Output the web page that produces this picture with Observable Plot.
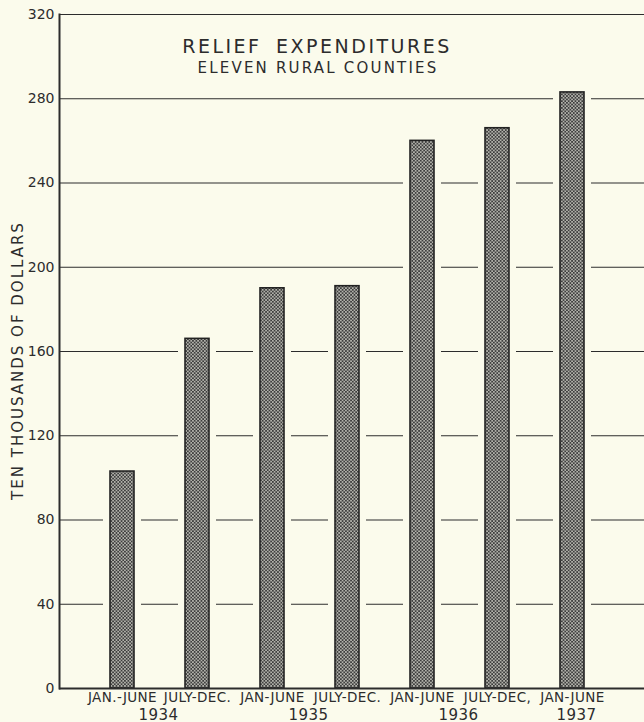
<!DOCTYPE html>
<html>
<head>
<meta charset="utf-8">
<script src="https://cdn.jsdelivr.net/npm/d3@7"></script>
<script src="https://cdn.jsdelivr.net/npm/@observablehq/plot@0.6"></script>
<style>
  html, body { margin: 0; padding: 0; background: #fbfbec; }
  #chart svg { display: block; font-family: "DejaVu Sans", sans-serif; }
</style>
</head>
<body>
<div id="chart"></div>
<script>
const periods = ["JAN.-JUNE 1934", "JULY-DEC. 1934", "JAN-JUNE 1935", "JULY-DEC. 1935", "JAN-JUNE 1936", "JULY-DEC, 1936", "JAN-JUNE 1937"];
const periodLabels = ["JAN.-JUNE", "JULY-DEC.", "JAN-JUNE", "JULY-DEC.", "JAN-JUNE", "JULY-DEC,", "JAN-JUNE"];
const values = [103, 166, 190, 191, 260, 266, 283];
const years = ["1934", "1935", "1936", "1937"];
const yearFirstPeriod = ["JAN.-JUNE 1934", "JAN-JUNE 1935", "JAN-JUNE 1936", "JAN-JUNE 1937"];
const yearHasPair = [true, true, true, false];
const yTicks = [0, 40, 80, 120, 160, 200, 240, 280, 320];
const titleText = "RELIEF EXPENDITURES";
const subtitleText = "ELEVEN RURAL COUNTIES";
const yLabelText = "TEN THOUSANDS OF DOLLARS";

const bg = "#fbfbec";
const ink = "#2c2c2c";
const data = periods.map((p, i) => ({period: p, label: periodLabels[i], value: values[i]}));
const yearData = years.map((y, i) => ({year: y, period: yearFirstPeriod[i], pair: yearHasPair[i]}));

const patternDefs = () => {
  const defs = d3.create("svg:defs");
  const p = defs.append("pattern").attr("id", "hatch").attr("patternUnits", "userSpaceOnUse")
    .attr("width", 3.4).attr("height", 3.4);
  p.append("rect").attr("width", 3.4).attr("height", 3.4).attr("fill", "#3d3d3d");
  p.append("circle").attr("cx", 0.85).attr("cy", 0.85).attr("r", 0.8).attr("fill", "#e6e6dc");
  p.append("circle").attr("cx", 2.55).attr("cy", 2.55).attr("r", 0.8).attr("fill", "#e6e6dc");
  return defs.node();
};

const step = 76;
const chart = Plot.plot({
  width: 644,
  height: 722,
  marginLeft: 59,
  marginRight: 0,
  marginTop: 14,
  marginBottom: 34,
  style: {background: bg, fontFamily: "DejaVu Sans, sans-serif", color: ink},
  x: {domain: periods, insetLeft: 51, insetRight: 54, paddingInner: 0.684, paddingOuter: 0, align: 0, axis: null},
  y: {domain: [0, 320], axis: null},
  marks: [
    patternDefs,
    Plot.ruleY(yTicks.filter(d => d > 0), {stroke: ink, strokeWidth: 1.2}),
    Plot.barY(data, {x: "period", y: "value", fill: bg, insetLeft: -7, insetRight: -7}),
    Plot.barY(data, {x: "period", y: "value", fill: "url(#hatch)", stroke: "#222", strokeWidth: 1.6}),
    Plot.ruleY([0], {stroke: ink, strokeWidth: 2}),
    Plot.frame({anchor: "left", stroke: ink, strokeWidth: 2}),
    Plot.axisY({ticks: yTicks, tickSize: 0, tickPadding: 5, fontSize: 14, label: null, fill: ink}),
    Plot.text([yLabelText], {frameAnchor: "left", textAnchor: "middle", dx: -41, dy: 9, rotate: -90, fontSize: 15, fill: ink}),
    Plot.text(data, {x: "period", text: "label", frameAnchor: "bottom", lineAnchor: "top", dy: 4, fontSize: 13.5, fill: ink}),
    Plot.text(yearData.filter(d => d.pair), {x: "period", text: "year", frameAnchor: "bottom", lineAnchor: "bottom", dy: 31, dx: step / 2 - 2, fontSize: 15, fill: ink}),
    Plot.text(yearData.filter(d => !d.pair), {x: "period", text: "year", frameAnchor: "bottom", lineAnchor: "bottom", dy: 31, dx: 4, fontSize: 15, fill: ink}),
    Plot.text([titleText], {frameAnchor: "top", dx: -35, dy: 25, fontSize: 19, fill: ink}),
    Plot.text([subtitleText], {frameAnchor: "top", dx: -34, dy: 48, fontSize: 15, fill: ink})
  ]
});

const spacing = new Map([
  [titleText, "2.5px"],
  [subtitleText, "2.2px"],
  [yLabelText, "2px"],
  ...periodLabels.map(l => [l, "0.4px"]),
  ...years.map(y => [y, "0.5px"])
]);
d3.select(chart).selectAll("text").each(function() {
  const s = spacing.get(this.textContent);
  if (s) d3.select(this).attr("letter-spacing", s);
  if (this.textContent === titleText) d3.select(this).attr("word-spacing", "6px");
});
document.getElementById("chart").append(chart);
</script>
</body>
</html>
